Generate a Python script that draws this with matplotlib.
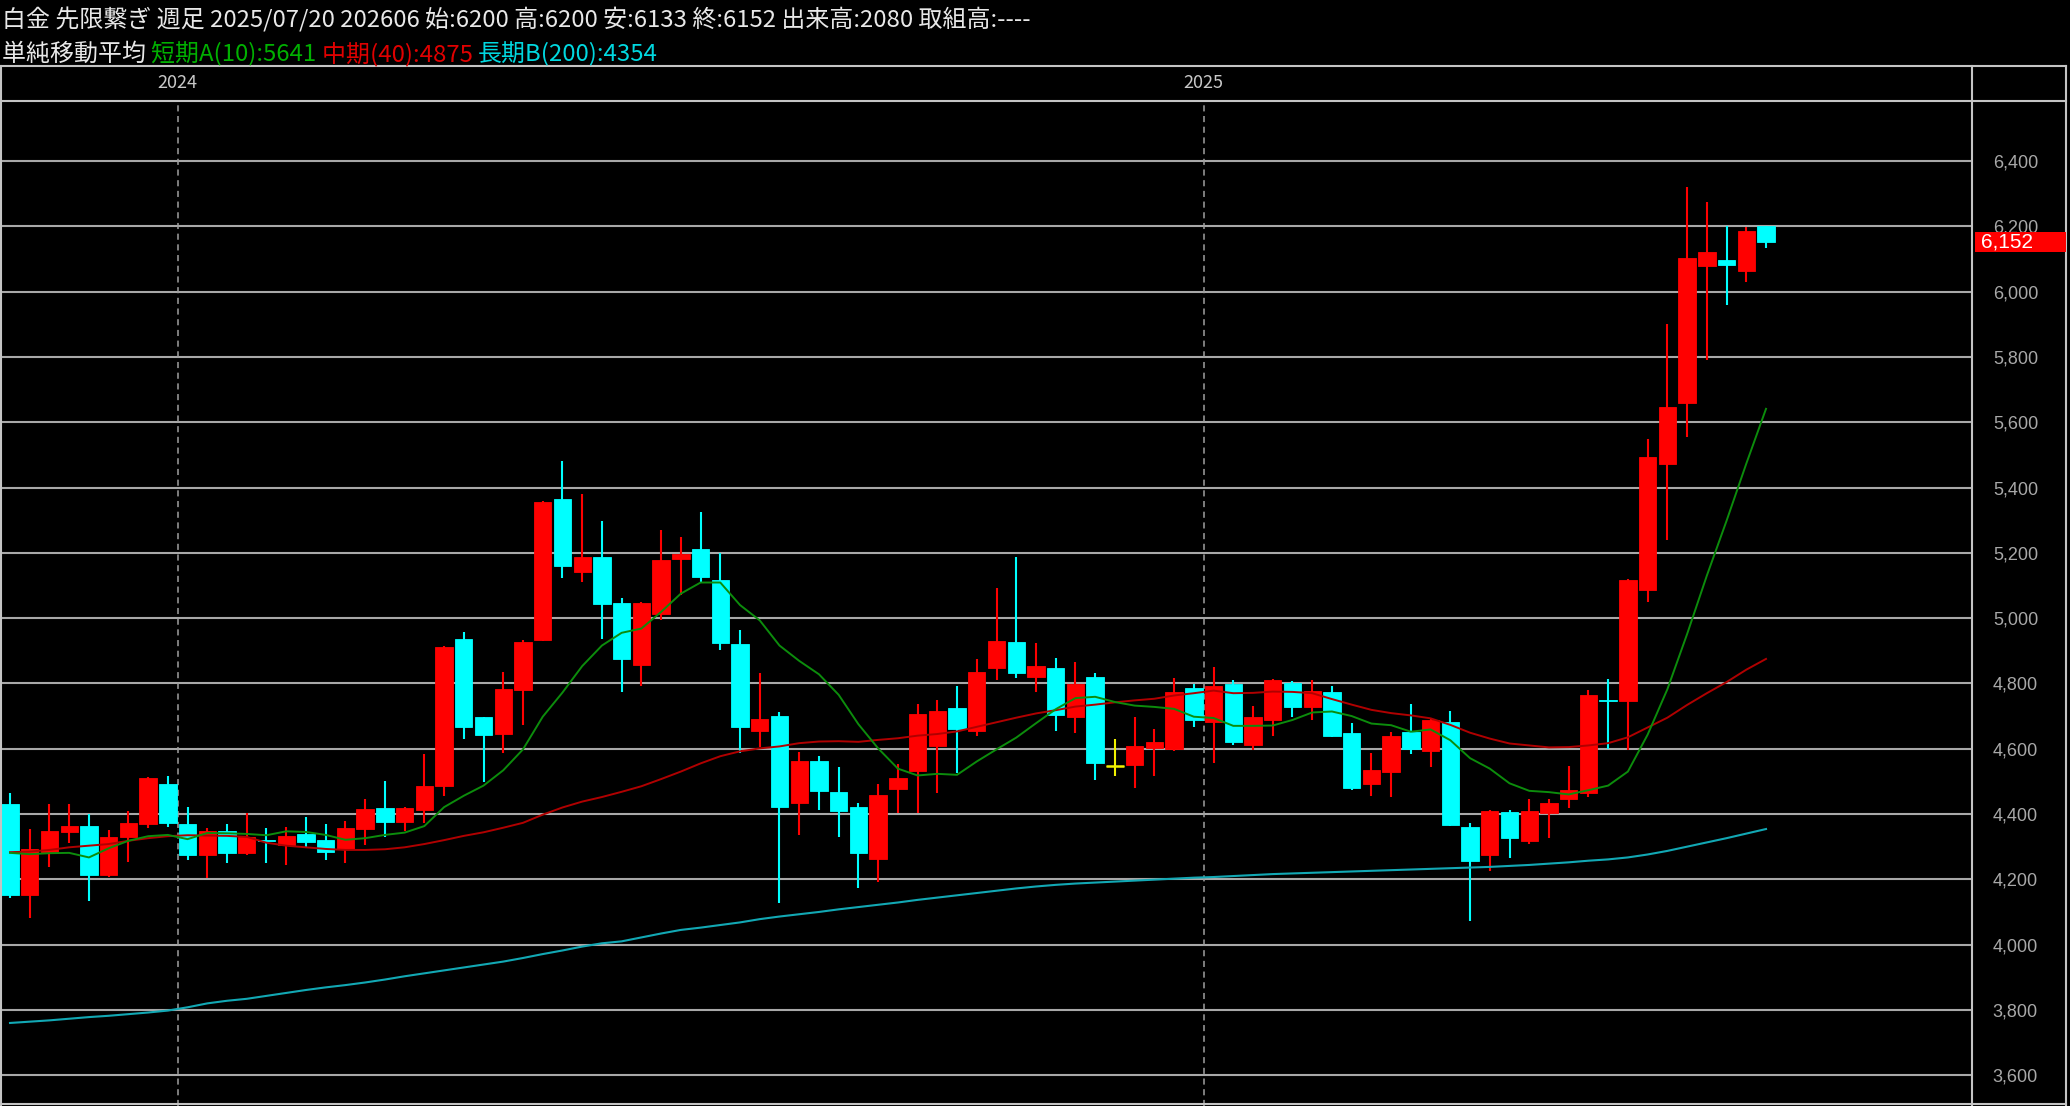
import matplotlib
matplotlib.use("Agg")
import matplotlib.pyplot as plt
import matplotlib.transforms as mtransforms
from matplotlib.lines import Line2D
from matplotlib.patches import Rectangle
import numpy as np
import pandas as pd

plt.rcParams["font.family"] = ["Noto Sans CJK JP", "DejaVu Sans"]

# ---------------------------------------------------------------------------
# Data (weekly candles)
# ---------------------------------------------------------------------------
last_week = "2025-07-20"

opens = [4430, 4151, 4284, 4346, 4363, 4212, 4330, 4369, 4492, 4368,
         4274, 4349, 4280, 4320, 4305, 4338, 4320, 4292, 4355, 4419,
         4375, 4412, 4485, 4935, 4696, 4645, 4780, 4933, 5364, 5140,
         5188, 5045, 4855, 5013, 5180, 5212, 5117, 4921, 4655, 4701,
         4435, 4563, 4467, 4420, 4261, 4476, 4532, 4608, 4726, 4655,
         4846, 4926, 4819, 4848, 4698, 4821, 4547, 4550, 4601, 4598,
         4787, 4683, 4798, 4611, 4688, 4800, 4727, 4773, 4649, 4492,
         4530, 4650, 4594, 4683, 4361, 4274, 4407, 4317, 4402, 4447,
         4465, 4750, 4746, 5085, 5471, 5658, 6079, 6097, 6064, 6200]
highs = [4463, 4353, 4431, 4431, 4400, 4351, 4410, 4514, 4516, 4420,
         4356, 4369, 4402, 4358, 4361, 4392, 4368, 4379, 4445, 4502,
         4422, 4583, 4915, 4958, 4698, 4834, 4933, 5360, 5482, 5379,
         5297, 5063, 5050, 5270, 5249, 5326, 5198, 4964, 4831, 4712,
         4591, 4578, 4543, 4433, 4491, 4553, 4736, 4749, 4793, 4874,
         5091, 5188, 4925, 4877, 4867, 4831, 4630, 4696, 4659, 4816,
         4798, 4849, 4810, 4731, 4814, 4808, 4810, 4793, 4678, 4586,
         4652, 4736, 4692, 4716, 4371, 4412, 4412, 4445, 4445, 4548,
         4780, 4812, 5120, 5550, 5901, 6321, 6274, 6200, 6198, 6200]
lows = [4142, 4080, 4239, 4310, 4134, 4208, 4254, 4356, 4359, 4259,
        4203, 4251, 4274, 4249, 4244, 4300, 4259, 4249, 4305, 4330,
        4349, 4371, 4455, 4631, 4499, 4586, 4673, 4930, 5122, 5112,
        4935, 4775, 4793, 4994, 5071, 5112, 4902, 4586, 4606, 4126,
        4336, 4412, 4330, 4174, 4193, 4402, 4402, 4463, 4525, 4639,
        4810, 4817, 4775, 4655, 4649, 4504, 4516, 4479, 4516, 4594,
        4667, 4555, 4611, 4596, 4639, 4698, 4688, 4635, 4473, 4455,
        4451, 4583, 4545, 4362, 4072, 4226, 4264, 4307, 4326, 4419,
        4451, 4600, 4597, 5048, 5238, 5554, 5789, 5960, 6028, 6133]
closes = [4151, 4292, 4349, 4363, 4212, 4330, 4373, 4511, 4371, 4274,
          4349, 4280, 4330, 4318, 4332, 4313, 4285, 4358, 4416, 4375,
          4419, 4486, 4911, 4666, 4641, 4782, 4926, 5355, 5160, 5188,
          5042, 4874, 5045, 5178, 5196, 5127, 4923, 4666, 4691, 4422,
          4563, 4470, 4409, 4280, 4458, 4510, 4707, 4716, 4660, 4836,
          4931, 4831, 4853, 4703, 4798, 4555, 4547, 4607, 4620, 4773,
          4688, 4792, 4621, 4696, 4810, 4727, 4777, 4640, 4479, 4535,
          4640, 4599, 4688, 4366, 4256, 4410, 4327, 4410, 4435, 4472,
          4763, 4745, 5117, 5492, 5646, 6102, 6121, 6082, 6186, 6152]

sma10 = [4281, 4277, 4280, 4281, 4267, 4295, 4318, 4332, 4336, 4323,
         4342, 4341, 4339, 4335, 4347, 4345, 4336, 4321, 4326, 4336,
         4343, 4363, 4421, 4456, 4487, 4534, 4598, 4698, 4772, 4853,
         4916, 4955, 4968, 5019, 5075, 5109, 5109, 5040, 4993, 4916,
         4869, 4828, 4765, 4675, 4601, 4539, 4518, 4523, 4520, 4561,
         4598, 4634, 4678, 4721, 4755, 4759, 4743, 4732, 4728, 4722,
         4698, 4694, 4670, 4670, 4671, 4688, 4711, 4714, 4700, 4677,
         4672, 4652, 4659, 4626, 4571, 4539, 4494, 4471, 4467, 4460,
         4473, 4487, 4530, 4643, 4782, 4951, 5130, 5298, 5473, 5641]
sma40 = [4283, 4285, 4290, 4298, 4303, 4308, 4318, 4326, 4332, 4335,
         4334, 4333, 4330, 4312, 4303, 4298, 4293, 4290, 4290, 4292,
         4298, 4308, 4320, 4333, 4344, 4358, 4373, 4398, 4420, 4438,
         4452, 4468, 4485, 4507, 4530, 4555, 4577, 4592, 4601, 4607,
         4617, 4622, 4623, 4621, 4627, 4632, 4640, 4645, 4653, 4667,
         4681, 4695, 4708, 4718, 4729, 4735, 4742, 4748, 4753, 4763,
         4770, 4778, 4770, 4771, 4775, 4774, 4770, 4752, 4735, 4719,
         4709, 4702, 4693, 4673, 4649, 4631, 4616, 4610, 4604, 4605,
         4610, 4617, 4635, 4665, 4695, 4734, 4770, 4804, 4842, 4875]
sma200 = [3760, 3764, 3768, 3773, 3778, 3782, 3787, 3792, 3798, 3808,
          3820, 3828, 3834, 3843, 3852, 3861, 3869, 3876, 3884, 3893,
          3903, 3912, 3921, 3930, 3939, 3948, 3959, 3971, 3982, 3994,
          4004, 4010, 4022, 4034, 4045, 4052, 4060, 4068, 4078, 4086,
          4093, 4100, 4108, 4115, 4122, 4129, 4137, 4144, 4151, 4158,
          4165, 4172, 4178, 4183, 4187, 4190, 4193, 4196, 4199, 4202,
          4205, 4207, 4210, 4213, 4216, 4218, 4220, 4222, 4224, 4226,
          4228, 4230, 4232, 4234, 4236, 4238, 4241, 4244, 4248, 4252,
          4257, 4261, 4267, 4276, 4287, 4300, 4313, 4326, 4340, 4354]

price_ticks = list(range(3600, 6401, 200))

header_1 = "白金 先限繋ぎ 週足 2025/07/20 202606 始:6200 高:6200 安:6133 終:6152 出来高:2080 取組高:----"
header_2 = [("単純移動平均 ", "#e8e8e8"),
            ("短期A(10):5641 ", "#00b000"),
            ("中期(40):4875 ", "#e00000"),
            ("長期B(200):4354", "#00d8e0")]

# ---------------------------------------------------------------------------
# Style
# ---------------------------------------------------------------------------
W, H = 2070, 1106
BAND_TOP, PLOT_TOP = 66, 102
PLOT_RIGHT, OUTER_RIGHT = 1972, 2066
UP_CLR, DOWN_CLR, FLAT_CLR = "#ff0000", "#00ffff", "#f0f000"
GRID_CLR = "#a8a8a8"
FRAME_CLR = "#c4c4c4"


def fx(px):
    return px / W


def fy(py):
    return 1 - py / H


fig = plt.figure(figsize=(W / 100, H / 100), dpi=100)
fig.patch.set_facecolor("black")

ax = fig.add_axes([0, 0, fx(PLOT_RIGHT), 1 - PLOT_TOP / H])
ax.set_facecolor("black")
ax.set_xlim(-0.507, 99.44)
ax.set_ylim(3505.7, 6580.7)

o = np.array(opens, float)
c = np.array(closes, float)
h = np.array(highs, float)
l = np.array(lows, float)
x = np.arange(len(o))
clr = np.where(c > o, UP_CLR, np.where(c < o, DOWN_CLR, FLAT_CLR))

# ── grid / year separators ──────────────────────────────────────────────────
ax.set_yticks(price_ticks)
ax.set_yticklabels([f"{v:,}" for v in price_ticks])
ax.yaxis.tick_right()
ax.tick_params(axis="y", length=0, pad=15, labelsize=13, labelcolor="#a8a8a8")
for lab in ax.get_yticklabels():
    lab.set_family("Liberation Sans")
ax.set_xticks([])
for sp in ax.spines.values():
    sp.set_visible(False)
ax.grid(axis="y", color=GRID_CLR, lw=1.5)
ax.set_axisbelow(True)

weeks = pd.date_range(end=last_week, periods=len(o), freq="W-SUN")
year_breaks = np.where(np.diff(weeks.year) != 0)[0] + 0.5
for xb in year_breaks:
    ax.axvline(xb, color="#a0a0a0", lw=1.1, ls=(0, (4, 3)), zorder=1)

# ── candles ─────────────────────────────────────────────────────────────────
ax.vlines(x, l, h, colors=clr, lw=1.5, zorder=3)
ax.bar(x, np.abs(c - o), bottom=np.minimum(o, c), width=0.88,
       color=clr, edgecolor=clr, linewidth=0.6, zorder=4)
flat = c == o
ax.hlines(o[flat], x[flat] - 0.45, x[flat] + 0.45, colors=FLAT_CLR, lw=1.8, zorder=4)

# ── moving averages ─────────────────────────────────────────────────────────
ax.plot(x, sma200, color="#12a8b4", lw=1.5, zorder=5)
ax.plot(x, sma40, color="#b00000", lw=1.4, zorder=5)
ax.plot(x, sma10, color="#0c8c0c", lw=1.4, zorder=5)

# ── current price box ───────────────────────────────────────────────────────
tr = mtransforms.blended_transform_factory(fig.transFigure, ax.transData)
fig.add_artist(Rectangle((fx(1975), c[-1] - 31), fx(OUTER_RIGHT - 1975), 62,
                         transform=tr, facecolor="#ff0000", edgecolor="none", zorder=5))
fig.text(fx(1981), c[-1], f"{int(c[-1]):,}", transform=tr, color="white",
         fontsize=15, family="Liberation Sans",
         va="center", ha="left", zorder=6)

# ── date band ───────────────────────────────────────────────────────────────
trx = mtransforms.blended_transform_factory(ax.transData, fig.transFigure)
for xb in year_breaks:
    yr = weeks[int(xb + 0.5)].year
    fig.text(xb, fy(83), str(yr), transform=trx, color="#c8c8c8",
             fontsize=13, ha="center", va="center")

# ── frame lines ─────────────────────────────────────────────────────────────
for xs, ys in [
    ([0, OUTER_RIGHT], [BAND_TOP, BAND_TOP]),
    ([0, OUTER_RIGHT], [PLOT_TOP - 1, PLOT_TOP - 1]),
    ([PLOT_RIGHT, PLOT_RIGHT], [BAND_TOP, H]),
    ([OUTER_RIGHT, OUTER_RIGHT], [BAND_TOP, H]),
    ([1, 1], [BAND_TOP, H]),
    ([0, OUTER_RIGHT], [H - 2, H - 2]),
]:
    fig.add_artist(Line2D([fx(v) for v in xs], [fy(v) for v in ys],
                          color=FRAME_CLR, lw=1.5))

# ── header text ─────────────────────────────────────────────────────────────
renderer = fig.canvas.get_renderer()
t1 = fig.text(fx(2), fy(20), header_1, color="#e8e8e8", fontsize=16,
              ha="left", va="center")
w1 = t1.get_window_extent(renderer=renderer).width
size = 16 * 1030 / w1
t1.set_fontsize(size)

xpos = 2
for txt, col in header_2:
    t = fig.text(fx(xpos), fy(54), txt, color=col, fontsize=size,
                 ha="left", va="center")
    xpos = t.get_window_extent(renderer=renderer).x1

fig.savefig("out.png", facecolor=fig.get_facecolor())
